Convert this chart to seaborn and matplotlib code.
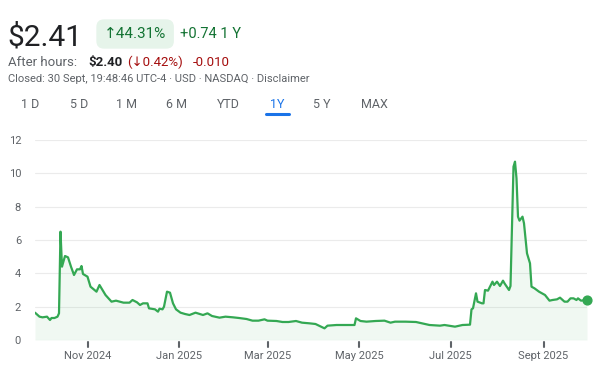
import pandas as pd
import seaborn as sns
import matplotlib.pyplot as plt

# price trace
dates = [
    '2024-09-27', '2024-09-30', '2024-10-02', '2024-10-05', '2024-10-07', '2024-10-08',
    '2024-10-10', '2024-10-12', '2024-10-13', '2024-10-14', '2024-10-15', '2024-10-17',
    '2024-10-19', '2024-10-21', '2024-10-23', '2024-10-25', '2024-10-27', '2024-10-28',
    '2024-10-29', '2024-11-01', '2024-11-03', '2024-11-07', '2024-11-09', '2024-11-11',
    '2024-11-13', '2024-11-17', '2024-11-20', '2024-11-25', '2024-11-29', '2024-12-01',
    '2024-12-04', '2024-12-06', '2024-12-08', '2024-12-11', '2024-12-12', '2024-12-16',
    '2024-12-18', '2024-12-19', '2024-12-21', '2024-12-22', '2024-12-24', '2024-12-26',
    '2024-12-28', '2024-12-30', '2025-01-02', '2025-01-05', '2025-01-08', '2025-01-12',
    '2025-01-17', '2025-01-20', '2025-01-23', '2025-01-28', '2025-02-01', '2025-02-06',
    '2025-02-10', '2025-02-15', '2025-02-19', '2025-02-23', '2025-02-27', '2025-03-01',
    '2025-03-07', '2025-03-11', '2025-03-15', '2025-03-20', '2025-03-24', '2025-03-29',
    '2025-04-02', '2025-04-08', '2025-04-10', '2025-04-16', '2025-04-22', '2025-04-28',
    '2025-04-29', '2025-05-02', '2025-05-06', '2025-05-12', '2025-05-18', '2025-05-22',
    '2025-05-25', '2025-06-01', '2025-06-08', '2025-06-17', '2025-06-24', '2025-06-27',
    '2025-07-04', '2025-07-09', '2025-07-14', '2025-07-15', '2025-07-16', '2025-07-18',
    '2025-07-19', '2025-07-22', '2025-07-23', '2025-07-24', '2025-07-26', '2025-07-29',
    '2025-07-30', '2025-08-01', '2025-08-03', '2025-08-05', '2025-08-06', '2025-08-09',
    '2025-08-10', '2025-08-12', '2025-08-13', '2025-08-14', '2025-08-15', '2025-08-16',
    '2025-08-18', '2025-08-19', '2025-08-21', '2025-08-23', '2025-08-24', '2025-08-26',
    '2025-08-29', '2025-09-02', '2025-09-05', '2025-09-07', '2025-09-10', '2025-09-12',
    '2025-09-15', '2025-09-17', '2025-09-19', '2025-09-21', '2025-09-23', '2025-09-24',
    '2025-09-26', '2025-09-30',
]
prices = [
    1.64, 1.40, 1.36, 1.40, 1.20, 1.32,
    1.32, 1.40, 1.60, 6.50, 4.40, 5.04,
    4.96, 4.40, 3.90, 4.24, 4.24, 4.44,
    3.96, 3.80, 3.20, 2.90, 3.30, 3.00,
    2.70, 2.30, 2.36, 2.24, 2.24, 2.40,
    2.26, 2.10, 2.20, 2.20, 1.90, 1.84,
    1.70, 1.88, 1.84, 2.00, 2.90, 2.84,
    2.20, 1.84, 1.64, 1.56, 1.50, 1.64,
    1.50, 1.60, 1.44, 1.34, 1.40, 1.36,
    1.32, 1.26, 1.16, 1.16, 1.24, 1.16,
    1.14, 1.08, 1.08, 1.14, 1.04, 1.00,
    0.96, 0.70, 0.86, 0.90, 0.90, 0.90,
    1.30, 1.14, 1.10, 1.14, 1.16, 1.04,
    1.10, 1.10, 1.08, 0.90, 0.86, 0.90,
    0.80, 0.90, 0.92, 1.84, 1.90, 2.80,
    2.30, 2.20, 2.20, 3.00, 2.96, 3.50,
    3.30, 3.50, 3.24, 3.56, 3.40, 3.00,
    3.24, 10.40, 10.70, 9.70, 7.40, 7.16,
    7.40, 7.00, 5.20, 4.60, 3.20, 3.10,
    2.90, 2.70, 2.36, 2.40, 2.44, 2.54,
    2.30, 2.30, 2.50, 2.50, 2.40, 2.50,
    2.36, 2.41,
]
y_ticks = [0, 2, 4, 6, 8, 10, 12]
x_ticks = ['2024-11-01', '2025-01-01', '2025-03-01', '2025-05-01', '2025-07-01', '2025-09-01']
x_tick_labels = ['Nov 2024', 'Jan 2025', 'Mar 2025', 'May 2025', 'Jul 2025', 'Sept 2025']
ranges = ['1 D', '5 D', '1 M', '6 M', 'YTD', '1Y', '5 Y', 'MAX']
range_x = [30, 79, 126, 176, 228, 277, 322, 374]

df = pd.DataFrame({'date': pd.to_datetime(dates), 'price': prices})

sns.set_style('white')
plt.rcParams['font.family'] = ['Roboto', 'DejaVu Sans']

W, H = 609, 370
fig = plt.figure(figsize=(W / 100, H / 100), dpi=100)

def px(x, y):
    return x / W, 1 - y / H

GREEN = '#34a853'
GREY = '#5f6368'

# header
fig.text(*px(7, 45), '$2.41', fontsize=21.5, color='#202124', va='baseline')
fig.text(*px(104, 38), '↑44.31%', fontsize=11, color='#137333', va='baseline',
         bbox=dict(boxstyle='round,pad=0.5,rounding_size=0.5', fc='#e6f4ea', ec='none'))
fig.text(*px(180, 38), '+0.74 1 Y', fontsize=10.5, color='#137333', va='baseline')
fig.text(*px(8, 66), 'After hours:', fontsize=9.5, color=GREY, va='baseline')
fig.text(*px(88, 66), '$2.40', fontsize=9.5, color='#202124', fontweight='bold', va='baseline')
fig.text(*px(127, 66), '(↓0.42%)', fontsize=9.5, color='#a50e0e', va='baseline')
fig.text(*px(193, 66), '-0.010', fontsize=9.5, color='#a50e0e', va='baseline')
fig.text(*px(8, 82), 'Closed: 30 Sept, 19:48:46 UTC-4 · USD · NASDAQ · Disclaimer',
         fontsize=8, color=GREY, va='baseline')

for lab, x in zip(ranges, range_x):
    col = '#1a73e8' if lab == '1Y' else GREY
    fig.text(*px(x, 108), lab, fontsize=9, color=col, ha='center', va='baseline')
fig.add_artist(plt.Line2D([266 / W, 289 / W], [1 - 114 / H, 1 - 114 / H],
                          color='#1a73e8', lw=2.2, solid_capstyle='round'))

# chart
ax = fig.add_axes([35 / W, 30 / H, 552 / W, 200 / H])
ax.fill_between(df['date'], df['price'], 0, color=GREEN, alpha=0.07, lw=0)
sns.lineplot(data=df, x='date', y='price', ax=ax, color=GREEN, lw=1.6)
ax.scatter(df['date'].iloc[-1], df['price'].iloc[-1], s=40, color=GREEN, zorder=5, clip_on=False)

ax.set_xlim(df['date'].iloc[0], df['date'].iloc[-1])
ax.set_ylim(0, 12)
ax.set_yticks(y_ticks)
ax.set_yticklabels([str(v) for v in y_ticks], color=GREY, fontsize=8)
ax.set_xticks(pd.to_datetime(x_ticks))
ax.set_xticklabels(x_tick_labels, color=GREY, fontsize=8)
ax.tick_params(axis='y', left=False, length=0, pad=10)
ax.tick_params(axis='x', length=0, pad=8)
# small tick marks below the baseline
for t in pd.to_datetime(x_ticks):
    ax.plot([t, t], [-0.012, -0.035], transform=ax.get_xaxis_transform(),
            color=GREY, lw=1.5, clip_on=False)
ax.grid(axis='y', color='#ebebeb', lw=0.8)
ax.set_axisbelow(True)
for s in ax.spines.values():
    s.set_visible(False)
ax.set_xlabel('')
ax.set_ylabel('')

fig.savefig('out.png', dpi=100)
